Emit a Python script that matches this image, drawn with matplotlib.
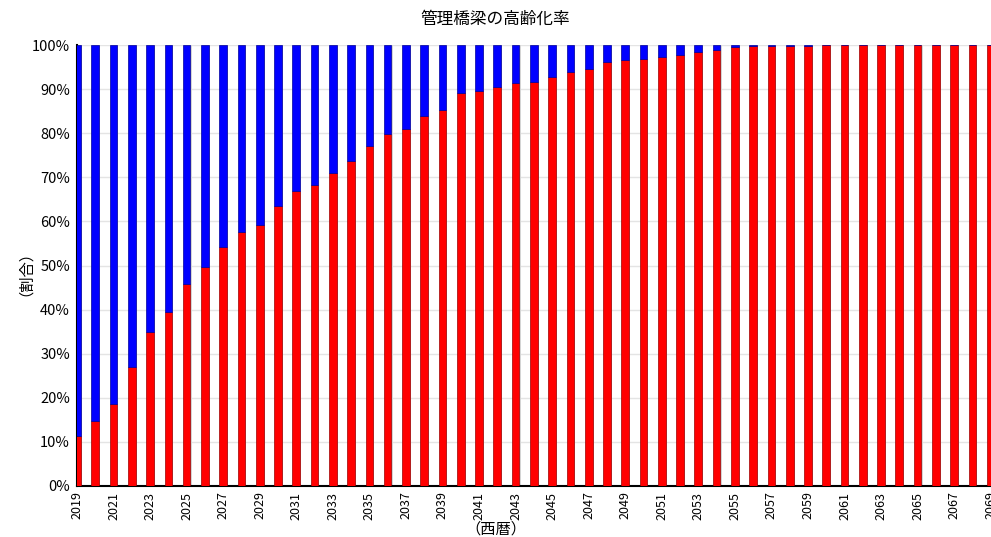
import numpy as np
from matplotlib import pyplot as plt
from matplotlib.ticker import PercentFormatter

plt.rcParams['font.family'] = ['Noto Sans CJK JP', 'DejaVu Sans']

years = list(range(2019, 2070))
# share of bridges older than 50 years (%)
aged = [11.4, 14.7, 18.7, 26.9, 35.0, 39.5, 45.8, 49.7, 54.2, 57.7,
        59.3, 63.6, 67.0, 68.3, 71.0, 73.7, 77.2, 79.9, 80.9, 84.0,
        85.3, 89.2, 89.7, 90.5, 91.4, 91.7, 92.8, 94.0, 94.5, 96.2,
        96.7, 96.8, 97.4, 97.8, 98.5, 98.9, 99.6, 99.7, 99.7, 99.9,
        99.8, 100, 100, 100, 100, 100, 100, 100, 100, 100, 100]
rest = [100 - a for a in aged]
tick_years = years[::2]

fig = plt.figure(figsize=(9.91, 5.37), dpi=100)
ax = fig.add_axes([0.0777, 0.095, 0.922, 0.821])

x = np.array(years)
w = 0.42
# faint shadow to the right of each bar
ax.bar(x + 0.06, 100, width=w, color='#d4d4d4', zorder=2)
ax.bar(x, aged, width=w, color='#ff0000', edgecolor='#9b0000', linewidth=0.5, zorder=3)
ax.bar(x, rest, width=w, bottom=aged, color='#0000ff', edgecolor='#00009b', linewidth=0.5, zorder=3)

ax.set_xlim(2019, 2069)
ax.set_ylim(0, 100)
ax.set_yticks(np.arange(0, 101, 10))
ax.yaxis.set_major_formatter(PercentFormatter(decimals=0))
ax.set_xticks(tick_years)
ax.set_xticklabels([str(y) for y in tick_years], rotation=90, fontsize=9)
ax.tick_params(axis='y', labelsize=10.5, length=0, pad=5)
ax.tick_params(axis='x', length=0, pad=4)
ax.grid(axis='y', color='#e4e4e4', linewidth=1, zorder=0)
ax.set_axisbelow(True)

for s in ['top', 'right']:
    ax.spines[s].set_visible(False)
ax.spines['left'].set_linewidth(1.5)
ax.spines['bottom'].set_linewidth(1.5)

fig.text(0.5, 0.965, '管理橋梁の高齢化率', ha='center', va='center', fontsize=12)
fig.text(0.5, 0.015, '（西暦）', ha='center', va='center', fontsize=11)
fig.text(0.018, 0.505, '（割合）', ha='center', va='center', rotation=90, fontsize=11)

fig.savefig('out.png', dpi=100)
